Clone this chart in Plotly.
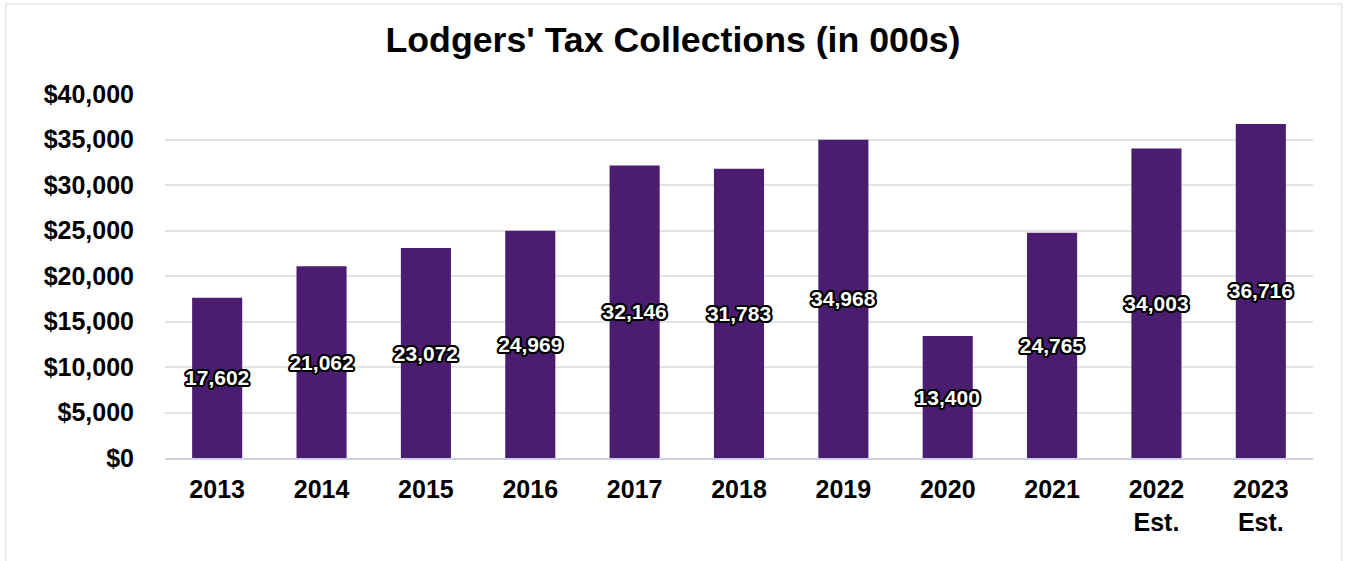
import plotly.graph_objects as go

# Lodgers' tax collections, thousands of dollars
years = ["2013", "2014", "2015", "2016", "2017", "2018", "2019", "2020", "2021", "2022<br>Est.", "2023<br>Est."]
collections = [17602, 21062, 23072, 24969, 32146, 31783, 34968, 13400, 24765, 34003, 36716]
y_ticks = [0, 5000, 10000, 15000, 20000, 25000, 30000, 35000, 40000]
y_tick_labels = ["$0", "$5,000", "$10,000", "$15,000", "$20,000", "$25,000", "$30,000", "$35,000", "$40,000"]

FONT = "Liberation Sans, Arial, sans-serif"
BAR = "#4a1d70"

# black halo around the white value labels
outline = ", ".join(
    f"{dx}px {dy}px 0 #000"
    for dx, dy in [(-1, -1), (1, -1), (-1, 1), (1, 1), (0, 2), (0, -2), (2, 0), (-2, 0),
                   (2, 1), (-2, 1), (2, -1), (-2, -1), (1, 2), (-1, 2), (1, -2), (-1, -2)]
)

fig = go.Figure(
    go.Bar(
        x=years,
        y=collections,
        marker=dict(color=BAR, line=dict(width=0)),
        width=0.48,
        text=[f"{v:,}" for v in collections],
        textposition="inside",
        insidetextanchor="middle",
        constraintext="none",
        textangle=0,
        textfont=dict(family=FONT, size=21, color="white", weight="bold", shadow=outline),
        cliponaxis=False,
    )
)

W, H = 1346, 561
L, R, T, B = 165, 33, 94, 103
pw, ph = W - L - R, H - T - B

def px_to_paper_x(px):
    return (px - L) / pw

def px_to_paper_y(py):
    return (H - B - py) / ph

# thin frame around the chart
fig.add_shape(
    type="rect", xref="paper", yref="paper",
    x0=px_to_paper_x(6), x1=px_to_paper_x(1342),
    y0=px_to_paper_y(570), y1=px_to_paper_y(4),
    line=dict(color="#d9d9d9", width=1), fillcolor="rgba(0,0,0,0)", layer="below",
)

fig.update_layout(
    width=W, height=H,
    margin=dict(l=L, r=R, t=T, b=B),
    paper_bgcolor="white", plot_bgcolor="white",
    showlegend=False,
    title=dict(
        text="Lodgers' Tax Collections (in 000s)",
        x=0.5, xref="container", xanchor="center",
        y=1 - 40 / H, yref="container", yanchor="middle",
        font=dict(family=FONT, size=35.7, color="black", weight="bold"),
    ),
    xaxis=dict(
        type="category",
        showgrid=False,
        showline=True, linecolor="#c9d0e6", linewidth=2,
        ticks="", ticklabelstandoff=8,
        tickfont=dict(family=FONT, size=25, color="black", weight="bold"),
    ),
    yaxis=dict(
        range=[0, 40000],
        tickvals=y_ticks, ticktext=y_tick_labels,
        showgrid=True, gridcolor="#e3e3e3", gridwidth=2,
        zeroline=False, showline=False,
        ticks="", ticklabelstandoff=30,
        tickfont=dict(family=FONT, size=25, color="black", weight="bold"),
    ),
)

fig.write_html("out.html")
